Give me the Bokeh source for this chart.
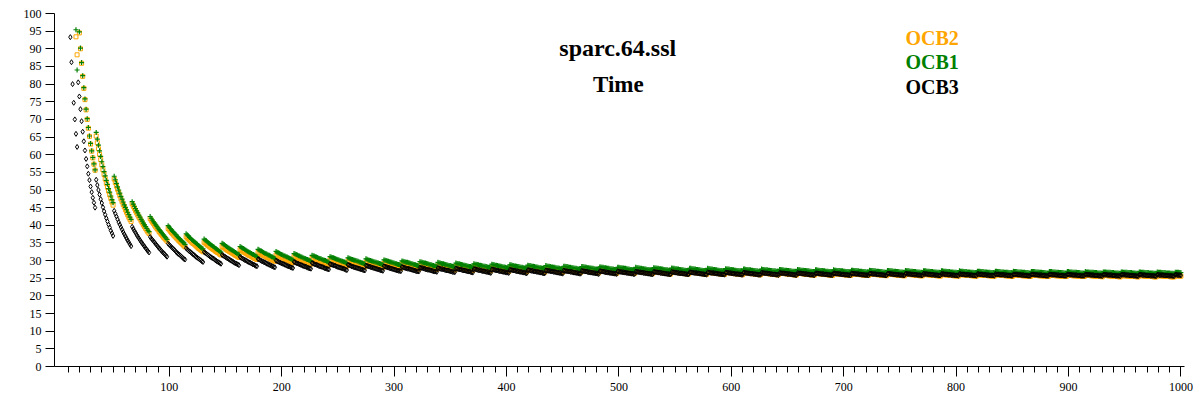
from bokeh.plotting import figure
from bokeh.models import Range1d, FixedTicker, Label
from bokeh.embed import file_html
from bokeh.resources import INLINE

# Message lengths (bytes) on the x axis
OCB3_LEN = list(range(12, 1001))
OCB12_LEN = [17, 18] + list(range(20, 1001))

# Time values, in tenths (value / 10)
OCB3_Y10 = [
933, 862, 800, 747, 700, 659, 622,
805, 765, 729, 695, 665, 638, 612, 588, 567, 546, 528, 510, 494, 478, 464, 450,
529, 514, 500, 487, 474, 463, 451, 440, 430, 420, 411, 402, 394, 385, 378, 370,
441, 433, 425, 417, 409, 402, 395, 388, 381, 375, 369, 363, 357, 352, 346, 341,
396, 390, 384, 379, 373, 368, 363, 358, 353, 349, 344, 340, 335, 331, 327, 323,
367, 363, 359, 355, 351, 347, 343, 339, 335, 332, 328, 324, 321, 318, 314, 311,
348, 345, 342, 338, 335, 332, 329, 325, 322, 319, 317, 314, 311, 308, 305, 303,
335, 332, 329, 326, 324, 321, 318, 316, 313, 310, 308, 306, 303, 301, 298, 296,
324, 322, 320, 317, 315, 312, 310, 308, 306, 304, 301, 299, 297, 295, 293, 291,
316, 314, 312, 310, 308, 306, 304, 302, 300, 298, 296, 294, 292, 291, 289, 287,
310, 308, 306, 304, 302, 301, 299, 297, 295, 294, 292, 290, 289, 287, 285, 284,
304, 303, 301, 299, 298, 296, 295, 293, 291, 290, 288, 287, 285, 284, 282, 281,
300, 298, 297, 295, 294, 292, 291, 290, 288, 287, 285, 284, 283, 281, 280, 279,
296, 295, 293, 292, 291, 289, 288, 287, 285, 284, 283, 282, 280, 279, 278, 277,
293, 292, 290, 289, 288, 287, 285, 284, 283, 282, 281, 279, 278, 277, 276, 275,
290, 289, 288, 287, 286, 285, 283, 282, 281, 280, 279, 278, 277, 276, 274, 273,
288, 287, 286, 284, 283, 282, 281, 280, 279, 278, 277, 276, 275, 274, 273, 272,
286, 285, 284, 283, 282, 281, 280, 279, 278, 277, 276, 275, 274, 273, 272, 271,
284, 283, 282, 281, 280, 279, 278, 277, 276, 275, 274, 273, 272, 271, 271, 270,
282, 281, 280, 279, 278, 277, 277, 276, 275, 274, 273, 272, 271, 270, 270, 269,
280, 279, 279, 278, 277, 276, 275, 274, 274, 273, 272, 271, 270, 269, 269, 268,
279, 278, 277, 276, 276, 275, 274, 273, 272, 272, 271, 270, 269, 268, 268, 267,
278, 277, 276, 275, 275, 274, 273, 272, 272, 271, 270, 269, 269, 268, 267, 266,
276, 276, 275, 274, 273, 273, 272, 271, 270, 270, 269, 268, 268, 267, 266, 265,
275, 275, 274, 273, 272, 272, 271, 270, 270, 269, 268, 268, 267, 266, 266, 265,
274, 274, 273, 272, 272, 271, 270, 270, 269, 268, 268, 267, 266, 266, 265, 264,
273, 273, 272, 271, 271, 270, 269, 269, 268, 268, 267, 266, 266, 265, 264, 264,
272, 272, 271, 271, 270, 269, 269, 268, 268, 267, 266, 266, 265, 265, 264, 263,
272, 271, 270, 270, 269, 269, 268, 268, 267, 266, 266, 265, 265, 264, 263, 263,
271, 270, 270, 269, 269, 268, 267, 267, 266, 266, 265, 265, 264, 264, 263, 262,
270, 270, 269, 269, 268, 267, 267, 266, 266, 265, 265, 264, 264, 263, 263, 262,
270, 269, 268, 268, 267, 267, 266, 266, 265, 265, 264, 264, 263, 263, 262, 262,
269, 268, 268, 267, 267, 266, 266, 265, 265, 264, 264, 263, 263, 262, 262, 261,
268, 268, 267, 267, 266, 266, 265, 265, 264, 264, 263, 263, 262, 262, 261, 261,
268, 267, 267, 266, 266, 265, 265, 264, 264, 264, 263, 263, 262, 262, 261, 261,
267, 267, 266, 266, 265, 265, 265, 264, 264, 263, 263, 262, 262, 261, 261, 260,
267, 266, 266, 265, 265, 265, 264, 264, 263, 263, 262, 262, 261, 261, 261, 260,
266, 266, 266, 265, 265, 264, 264, 263, 263, 262, 262, 262, 261, 261, 260, 260,
266, 266, 265, 265, 264, 264, 263, 263, 263, 262, 262, 261, 261, 260, 260, 260,
266, 265, 265, 264, 264, 264, 263, 263, 262, 262, 261, 261, 261, 260, 260, 259,
265, 265, 264, 264, 264, 263, 263, 262, 262, 262, 261, 261, 260, 260, 259, 259,
265, 264, 264, 264, 263, 263, 262, 262, 262, 261, 261, 260, 260, 260, 259, 259,
264, 264, 264, 263, 263, 262, 262, 262, 261, 261, 261, 260, 260, 259, 259, 259,
264, 264, 263, 263, 263, 262, 262, 261, 261, 261, 260, 260, 260, 259, 259, 258,
264, 263, 263, 263, 262, 262, 262, 261, 261, 260, 260, 260, 259, 259, 259, 258,
263, 263, 263, 262, 262, 262, 261, 261, 261, 260, 260, 260, 259, 259, 258, 258,
263, 263, 263, 262, 262, 261, 261, 261, 260, 260, 260, 259, 259, 259, 258, 258,
263, 263, 262, 262, 262, 261, 261, 261, 260, 260, 260, 259, 259, 259, 258, 258,
263, 262, 262, 262, 261, 261, 261, 260, 260, 260, 259, 259, 259, 258, 258, 258,
262, 262, 262, 261, 261, 261, 260, 260, 260, 259, 259, 259, 258, 258, 258, 257,
262, 262, 261, 261, 261, 260, 260, 260, 260, 259, 259, 259, 258, 258, 258, 257,
262, 262, 261, 261, 261, 260, 260, 260, 259, 259, 259, 258, 258, 258, 258, 257,
262, 261, 261, 261, 260, 260, 260, 260, 259, 259, 259, 258, 258, 258, 257, 257,
261, 261, 261, 261, 260, 260, 260, 259, 259, 259, 258, 258, 258, 257, 257, 257,
261, 261, 261, 260, 260, 260, 259, 259, 259, 259, 258, 258, 258, 257, 257, 257,
261, 261, 260, 260, 260, 260, 259, 259, 259, 258, 258, 258, 258, 257, 257, 257,
261, 261, 260, 260, 260, 259, 259, 259, 259, 258, 258, 258, 257, 257, 257, 257,
261, 260, 260, 260, 260, 259, 259, 259, 258, 258, 258, 258, 257, 257, 257, 256,
260, 260, 260, 260, 259, 259, 259, 259, 258, 258, 258, 257, 257, 257, 257, 256,
260, 260, 260, 260, 259, 259, 259, 258, 258, 258, 258, 257, 257, 257, 256, 256,
260, 260, 260, 259, 259, 259, 258, 258, 258, 258, 257, 257, 257, 257, 256, 256,
260, 260, 259, 259, 259, 259, 258, 258, 258, 258, 257, 257, 257, 257, 256, 256,
260, 260, 259, 259, 259, 258,
]

OCB1_Y10 = [
954, 840,
948, 902, 861, 824, 790, 758, 729, 702, 677, 653, 632, 611, 592, 574, 557,
663, 644, 627, 611, 595, 580, 566, 552, 540, 527, 516, 504, 494, 483, 473, 464,
539, 529, 519, 509, 500, 491, 482, 474, 466, 458, 451, 444, 437, 430, 423, 417,
467, 460, 454, 447, 441, 435, 429, 423, 417, 412, 406, 401, 396, 391, 386, 382,
425, 420, 415, 410, 406, 401, 397, 392, 388, 384, 380, 376, 372, 368, 364, 360,
399, 395, 391, 387, 383, 380, 376, 373, 369, 366, 362, 359, 356, 353, 350, 346,
376, 373, 370, 366, 363, 360, 357, 354, 352, 349, 346, 343, 341, 338, 335, 333,
361, 358, 356, 353, 350, 348, 345, 343, 340, 338, 335, 333, 331, 328, 326, 324,
349, 347, 345, 342, 340, 338, 336, 333, 331, 329, 327, 325, 323, 321, 319, 317,
340, 338, 336, 334, 332, 330, 328, 326, 324, 322, 320, 318, 317, 315, 313, 311,
332, 330, 328, 327, 325, 323, 321, 320, 318, 316, 315, 313, 311, 310, 308, 306,
326, 324, 322, 321, 319, 317, 316, 314, 313, 311, 310, 308, 307, 305, 304, 302,
320, 319, 317, 316, 314, 313, 311, 310, 308, 307, 306, 304, 303, 302, 300, 299,
315, 314, 313, 311, 310, 309, 307, 306, 305, 303, 302, 301, 300, 298, 297, 296,
311, 310, 309, 308, 307, 305, 304, 303, 302, 300, 299, 298, 297, 296, 294, 293,
308, 307, 305, 304, 303, 302, 301, 300, 299, 298, 296, 295, 294, 293, 292, 291,
305, 304, 302, 301, 300, 299, 298, 297, 296, 295, 294, 293, 292, 291, 290, 289,
302, 301, 300, 299, 298, 297, 296, 295, 294, 293, 292, 291, 290, 289, 288, 287,
299, 298, 297, 296, 295, 295, 294, 293, 292, 291, 290, 289, 288, 287, 286, 285,
297, 296, 295, 294, 293, 293, 292, 291, 290, 289, 288, 287, 286, 285, 285, 284,
295, 294, 293, 292, 291, 291, 290, 289, 288, 287, 286, 286, 285, 284, 283, 282,
293, 292, 291, 291, 290, 289, 288, 287, 287, 286, 285, 284, 283, 283, 282, 281,
291, 290, 290, 289, 288, 287, 287, 286, 285, 284, 284, 283, 282, 281, 281, 280,
290, 289, 288, 287, 287, 286, 285, 285, 284, 283, 282, 282, 281, 280, 280, 279,
288, 288, 287, 286, 285, 285, 284, 283, 283, 282, 281, 281, 280, 279, 279, 278,
287, 286, 286, 285, 284, 284, 283, 282, 282, 281, 280, 280, 279, 278, 278, 277,
286, 285, 284, 284, 283, 282, 282, 281, 281, 280, 279, 279, 278, 277, 277, 276,
284, 284, 283, 283, 282, 281, 281, 280, 280, 279, 278, 278, 277, 276, 276, 275,
283, 283, 282, 282, 281, 280, 280, 279, 279, 278, 278, 277, 276, 276, 275, 275,
282, 282, 281, 281, 280, 280, 279, 278, 278, 277, 277, 276, 276, 275, 274, 274,
281, 281, 280, 280, 279, 279, 278, 278, 277, 276, 276, 275, 275, 274, 274, 273,
281, 280, 280, 279, 278, 278, 277, 277, 276, 276, 275, 275, 274, 274, 273, 273,
280, 279, 279, 278, 278, 277, 277, 276, 276, 275, 275, 274, 274, 273, 273, 272,
279, 278, 278, 277, 277, 276, 276, 275, 275, 274, 274, 273, 273, 272, 272, 271,
278, 278, 277, 277, 276, 276, 275, 275, 274, 274, 273, 273, 272, 272, 271, 271,
278, 277, 277, 276, 276, 275, 275, 274, 274, 273, 273, 272, 272, 271, 271, 270,
277, 276, 276, 276, 275, 275, 274, 274, 273, 273, 272, 272, 271, 271, 271, 270,
276, 276, 275, 275, 274, 274, 274, 273, 273, 272, 272, 271, 271, 270, 270, 270,
276, 275, 275, 274, 274, 274, 273, 273, 272, 272, 271, 271, 271, 270, 270, 269,
275, 275, 274, 274, 273, 273, 273, 272, 272, 271, 271, 270, 270, 270, 269, 269,
275, 274, 274, 273, 273, 273, 272, 272, 271, 271, 271, 270, 270, 269, 269, 268,
274, 274, 273, 273, 272, 272, 272, 271, 271, 270, 270, 270, 269, 269, 268, 268,
274, 273, 273, 272, 272, 272, 271, 271, 271, 270, 270, 269, 269, 269, 268, 268,
273, 273, 272, 272, 272, 271, 271, 270, 270, 270, 269, 269, 269, 268, 268, 267,
273, 272, 272, 272, 271, 271, 270, 270, 270, 269, 269, 269, 268, 268, 267, 267,
272, 272, 271, 271, 271, 270, 270, 270, 269, 269, 269, 268, 268, 268, 267, 267,
272, 271, 271, 271, 270, 270, 270, 269, 269, 269, 268, 268, 268, 267, 267, 266,
271, 271, 271, 270, 270, 270, 269, 269, 269, 268, 268, 268, 267, 267, 267, 266,
271, 271, 270, 270, 270, 269, 269, 269, 268, 268, 268, 267, 267, 267, 266, 266,
271, 270, 270, 270, 269, 269, 269, 268, 268, 268, 267, 267, 267, 266, 266, 266,
270, 270, 270, 269, 269, 269, 268, 268, 268, 267, 267, 267, 266, 266, 266, 265,
270, 270, 269, 269, 269, 268, 268, 268, 267, 267, 267, 267, 266, 266, 266, 265,
270, 269, 269, 269, 268, 268, 268, 268, 267, 267, 267, 266, 266, 266, 265, 265,
269, 269, 269, 269, 268, 268, 268, 267, 267, 267, 266, 266, 266, 265, 265, 265,
269, 269, 269, 268, 268, 268, 267, 267, 267, 266, 266, 266, 266, 265, 265, 265,
269, 269, 268, 268, 268, 267, 267, 267, 267, 266, 266, 266, 265, 265, 265, 264,
269, 268, 268, 268, 267, 267, 267, 267, 266, 266, 266, 265, 265, 265, 265, 264,
268, 268, 268, 267, 267, 267, 267, 266, 266, 266, 265, 265, 265, 265, 264, 264,
268, 268, 267, 267, 267, 267, 266, 266, 266, 266, 265, 265, 265, 264, 264, 264,
268, 268, 267, 267, 267, 266, 266, 266, 266, 265, 265, 265, 265, 264, 264, 264,
268, 267, 267, 267, 266, 266, 266, 266, 265, 265, 265, 265, 264, 264, 264, 263,
267, 267, 267, 267, 266, 266,
]

OCB2_Y10 = [
934, 883,
945, 900, 859, 822, 788, 756, 727, 700, 675, 652, 630, 610, 591, 573, 556,
653, 634, 617, 601, 586, 571, 557, 544, 531, 519, 508, 497, 486, 476, 466, 457,
531, 521, 511, 502, 493, 484, 475, 467, 459, 452, 444, 437, 430, 423, 417, 411,
461, 454, 448, 441, 435, 429, 423, 418, 412, 407, 401, 396, 391, 386, 381, 377,
419, 414, 409, 405, 400, 395, 391, 387, 382, 378, 374, 370, 366, 363, 359, 355,
391, 387, 383, 379, 376, 372, 369, 365, 362, 358, 355, 352, 349, 346, 342, 339,
368, 364, 361, 358, 355, 352, 349, 347, 344, 341, 338, 335, 333, 330, 328, 325,
352, 350, 347, 344, 342, 339, 337, 334, 332, 330, 327, 325, 323, 321, 318, 316,
340, 338, 336, 334, 331, 329, 327, 325, 323, 321, 319, 317, 315, 313, 311, 309,
331, 329, 327, 325, 323, 321, 319, 317, 315, 314, 312, 310, 308, 306, 305, 303,
323, 321, 319, 318, 316, 314, 313, 311, 309, 308, 306, 304, 303, 301, 300, 298,
316, 315, 313, 312, 310, 309, 307, 305, 304, 302, 301, 300, 298, 297, 295, 294,
311, 309, 308, 307, 305, 304, 302, 301, 300, 298, 297, 295, 294, 293, 292, 290,
306, 305, 303, 302, 301, 299, 298, 297, 296, 294, 293, 292, 291, 289, 288, 287,
302, 301, 300, 298, 297, 296, 295, 294, 293, 291, 290, 289, 288, 287, 286, 284,
298, 297, 296, 295, 294, 293, 292, 291, 290, 288, 287, 286, 285, 284, 283, 282,
295, 294, 293, 292, 291, 290, 289, 288, 287, 286, 285, 284, 283, 282, 281, 280,
292, 291, 290, 289, 288, 287, 286, 286, 285, 284, 283, 282, 281, 280, 279, 278,
290, 289, 288, 287, 286, 285, 284, 283, 282, 282, 281, 280, 279, 278, 277, 276,
287, 286, 286, 285, 284, 283, 282, 281, 280, 280, 279, 278, 277, 276, 275, 275,
285, 284, 284, 283, 282, 281, 280, 280, 279, 278, 277, 276, 276, 275, 274, 273,
283, 283, 282, 281, 280, 279, 279, 278, 277, 276, 276, 275, 274, 273, 273, 272,
282, 281, 280, 279, 279, 278, 277, 276, 276, 275, 274, 274, 273, 272, 271, 271,
280, 279, 279, 278, 277, 277, 276, 275, 274, 274, 273, 272, 272, 271, 270, 269,
278, 278, 277, 276, 276, 275, 274, 274, 273, 272, 272, 271, 270, 270, 269, 268,
277, 276, 276, 275, 275, 274, 273, 273, 272, 271, 271, 270, 269, 269, 268, 267,
276, 275, 275, 274, 273, 273, 272, 272, 271, 270, 270, 269, 269, 268, 267, 267,
275, 274, 274, 273, 272, 272, 271, 271, 270, 269, 269, 268, 268, 267, 267, 266,
274, 273, 272, 272, 271, 271, 270, 270, 269, 268, 268, 267, 267, 266, 266, 265,
273, 272, 272, 271, 270, 270, 269, 269, 268, 268, 267, 267, 266, 265, 265, 264,
272, 271, 271, 270, 269, 269, 268, 268, 267, 267, 266, 266, 265, 265, 264, 264,
271, 270, 270, 269, 269, 268, 268, 267, 267, 266, 266, 265, 265, 264, 264, 263,
270, 269, 269, 268, 268, 267, 267, 266, 266, 265, 265, 264, 264, 263, 263, 262,
269, 269, 268, 268, 267, 267, 266, 266, 265, 265, 264, 264, 263, 263, 262, 262,
268, 268, 267, 267, 267, 266, 266, 265, 265, 264, 264, 263, 263, 262, 262, 261,
268, 267, 267, 266, 266, 265, 265, 265, 264, 264, 263, 263, 262, 262, 261, 261,
267, 267, 266, 266, 265, 265, 264, 264, 263, 263, 263, 262, 262, 261, 261, 260,
266, 266, 266, 265, 265, 264, 264, 263, 263, 263, 262, 262, 261, 261, 260, 260,
266, 265, 265, 265, 264, 264, 263, 263, 262, 262, 262, 261, 261, 260, 260, 260,
265, 265, 264, 264, 264, 263, 263, 262, 262, 262, 261, 261, 260, 260, 260, 259,
265, 264, 264, 264, 263, 263, 262, 262, 262, 261, 261, 260, 260, 260, 259, 259,
264, 264, 263, 263, 263, 262, 262, 261, 261, 261, 260, 260, 260, 259, 259, 258,
264, 263, 263, 263, 262, 262, 261, 261, 261, 260, 260, 260, 259, 259, 258, 258,
263, 263, 262, 262, 262, 261, 261, 261, 260, 260, 260, 259, 259, 258, 258, 258,
263, 262, 262, 262, 261, 261, 261, 260, 260, 260, 259, 259, 258, 258, 258, 257,
262, 262, 262, 261, 261, 261, 260, 260, 260, 259, 259, 258, 258, 258, 257, 257,
262, 262, 261, 261, 261, 260, 260, 260, 259, 259, 258, 258, 258, 257, 257, 257,
261, 261, 261, 260, 260, 260, 259, 259, 259, 258, 258, 258, 257, 257, 257, 256,
261, 261, 260, 260, 260, 259, 259, 259, 258, 258, 258, 257, 257, 257, 257, 256,
261, 260, 260, 260, 260, 259, 259, 259, 258, 258, 258, 257, 257, 257, 256, 256,
260, 260, 260, 259, 259, 259, 258, 258, 258, 258, 257, 257, 257, 256, 256, 256,
260, 260, 260, 259, 259, 259, 258, 258, 258, 257, 257, 257, 256, 256, 256, 255,
260, 260, 259, 259, 259, 258, 258, 258, 257, 257, 257, 257, 256, 256, 256, 255,
259, 259, 259, 259, 258, 258, 258, 257, 257, 257, 257, 256, 256, 256, 255, 255,
259, 259, 259, 258, 258, 258, 257, 257, 257, 257, 256, 256, 256, 255, 255, 255,
259, 259, 258, 258, 258, 257, 257, 257, 257, 256, 256, 256, 255, 255, 255, 255,
259, 258, 258, 258, 258, 257, 257, 257, 256, 256, 256, 256, 255, 255, 255, 254,
258, 258, 258, 258, 257, 257, 257, 256, 256, 256, 256, 255, 255, 255, 254, 254,
258, 258, 257, 257, 257, 257, 256, 256, 256, 256, 255, 255, 255, 255, 254, 254,
258, 258, 257, 257, 257, 256, 256, 256, 256, 255, 255, 255, 255, 254, 254, 254,
258, 257, 257, 257, 257, 256, 256, 256, 256, 255, 255, 255, 254, 254, 254, 254,
257, 257, 257, 257, 256, 256,
]

SERIES = ["OCB2", "OCB1", "OCB3"]
COLORS = {"OCB2": "#FFA500", "OCB1": "#008000", "OCB3": "#000000"}
TITLE_LINES = ["sparc.64.ssl", "Time"]
X_TICKS = list(range(100, 1001, 100))
X_MINOR = list(range(10, 1000, 10))
Y_TICKS = list(range(0, 101, 5))


def pair(xs, ys10):
    n = min(len(xs), len(ys10))
    return xs[:n], [v / 10 for v in ys10[:n]]


p = figure(width=1200, height=400, output_backend="svg", toolbar_location=None,
           title=None, x_range=Range1d(-2.1, 1003.2), y_range=Range1d(0, 100),
           min_border_left=54, min_border_right=16, min_border_top=13,
           min_border_bottom=34)
p.outline_line_color = None
p.background_fill_color = "white"
p.border_fill_color = "white"
p.xgrid.visible = False
p.ygrid.visible = False

FONT = "Liberation Serif"

p.xaxis.ticker = FixedTicker(ticks=X_TICKS, minor_ticks=X_MINOR)
p.xaxis.major_tick_out = 10
p.xaxis.major_tick_in = 0
p.xaxis.minor_tick_out = 6
p.xaxis.minor_tick_in = 0
p.xaxis.major_label_standoff = 6

p.yaxis.ticker = FixedTicker(ticks=Y_TICKS)
p.yaxis.major_tick_out = 9
p.yaxis.major_tick_in = 0
p.yaxis.minor_tick_out = 0
p.yaxis.minor_tick_in = 0
p.yaxis.major_label_standoff = 4

for ax in (p.xaxis, p.yaxis):
    ax.axis_line_color = "black"
    ax.major_tick_line_color = "black"
    ax.minor_tick_line_color = "black"
    ax.major_label_text_font = FONT
    ax.major_label_text_font_size = "12px"
    ax.major_label_text_color = "black"

x2, y2 = pair(OCB12_LEN, OCB2_Y10)
p.scatter(x2, y2, marker="square", size=4, line_color=COLORS["OCB2"],
          fill_color=None, line_width=1)
x1, y1 = pair(OCB12_LEN, OCB1_Y10)
p.scatter(x1, y1, marker="cross", size=5, line_color=COLORS["OCB1"],
          line_width=1.2)
x3, y3 = pair(OCB3_LEN, OCB3_Y10)
p.scatter(x3, y3, marker="diamond", size=5, line_color=COLORS["OCB3"],
          fill_color=None, line_width=1)

# Title lines
p.add_layout(Label(x=499, y=90.1, text=TITLE_LINES[0], text_font=FONT,
                   text_font_style="bold", text_font_size="24px",
                   text_align="center", text_baseline="middle",
                   text_color="black"))
p.add_layout(Label(x=499.5, y=79.9, text=TITLE_LINES[1], text_font=FONT,
                   text_font_style="bold", text_font_size="23px",
                   text_align="center", text_baseline="middle",
                   text_color="black"))

# Legend text
for name, yy in zip(SERIES, [93.1, 86.2, 79.3]):
    p.add_layout(Label(x=755, y=yy, text=name, text_font=FONT,
                       text_font_style="bold", text_font_size="20px",
                       text_align="left", text_baseline="middle",
                       text_color=COLORS[name]))

open("out.html", "w").write(file_html(p, INLINE))
